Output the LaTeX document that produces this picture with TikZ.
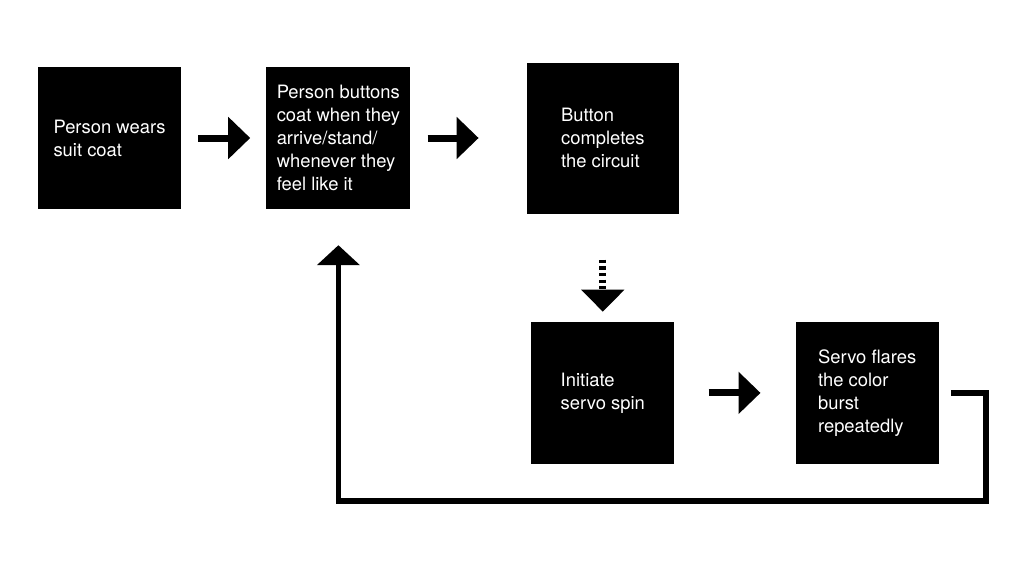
\documentclass[tikz,border=0pt]{standalone}
\usepackage{fontspec}
\setmainfont{TeX Gyre Heros}
\usetikzlibrary{positioning,arrows.meta}

\begin{document}
\begin{tikzpicture}[
  x=1pt, y=1pt,
  font=\fontsize{18.4}{23}\selectfont,
  blk/.style={fill=black, text=white, align=left, inner sep=0pt, minimum width=143pt, minimum height=142pt},
  arr/.style={-{Triangle[length=22pt, width=41pt]}, line width=7pt},
  dot/.style={-{Triangle[length=22pt, width=42pt]}, line width=7pt, dash pattern=on 3.3pt off 3.3pt},
  back/.style={-{Triangle[length=20pt, width=42pt]}, line width=5.5pt}
]
\useasboundingbox (0,0) rectangle (1024,-570);

\node[blk] (wear) at (109.5,-138) {Person wears\\suit coat};
\node[blk, minimum width=144pt, right=85pt of wear] (button) {Person buttons\\coat when they\\arrive/stand/\\whenever they\\feel like it};
\node[blk, minimum width=152pt, minimum height=151pt, right=116pt of button] (circuit) {Button\\completes\\the circuit};
\node[blk, below=108pt of circuit] (spin) {Initiate\\servo spin};
\node[blk, right=121pt of spin] (flare) {Servo flares\\the color\\burst\\repeatedly};

\draw[arr, shorten <=17pt, shorten >=16pt] (wear) -- (button);
\draw[arr, shorten <=17pt, shorten >=48pt] (button) -- (circuit);
\draw[arr, shorten <=34pt, shorten >=35pt] (spin) -- (flare);
\draw[dot, shorten <=46pt, shorten >=10pt] (circuit) -- (spin);

\draw[back, shorten <=12pt, shorten >=36pt] (flare.east) -| ++(47,-108) -| (button.south);

\end{tikzpicture}
\end{document}
